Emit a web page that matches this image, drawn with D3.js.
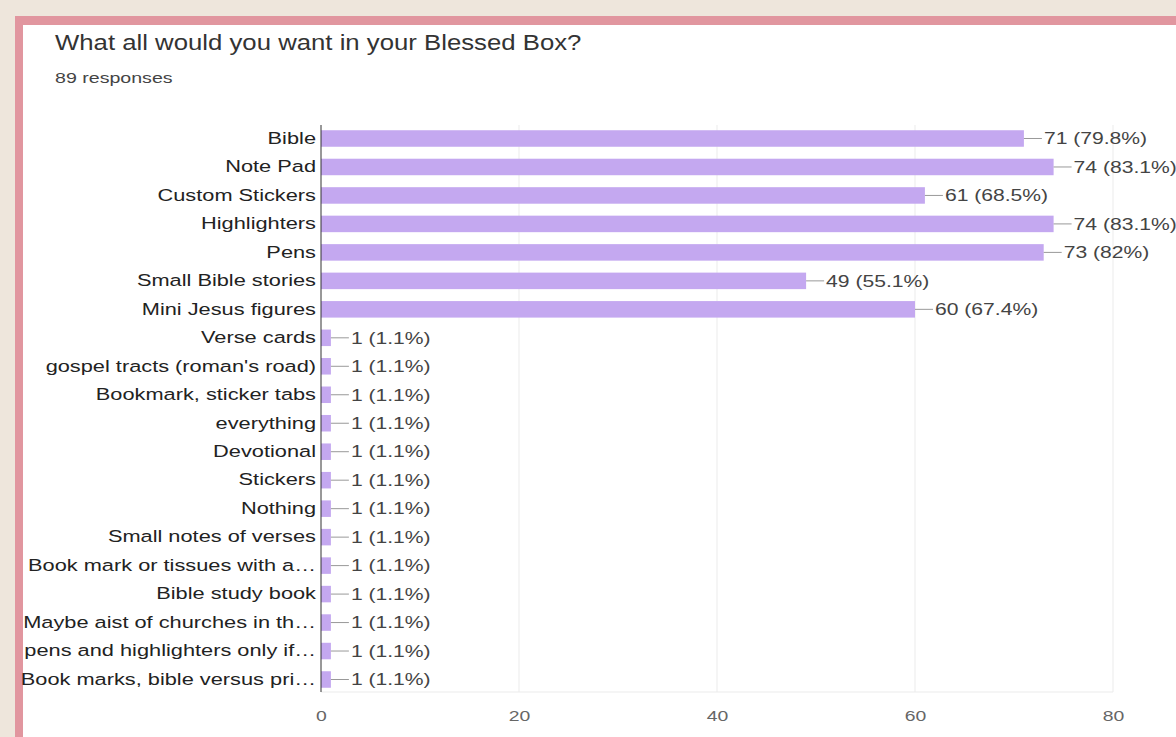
<!DOCTYPE html>
<html>
<head>
<meta charset="utf-8">
<script src="https://cdn.jsdelivr.net/npm/d3@7"></script>
<style>
  body { margin: 0; background: #eee6dc; overflow: hidden; }
  svg { display: block; font-family: "Liberation Sans", Arial, sans-serif; }
</style>
</head>
<body>
<svg id="chart" width="1176" height="737"></svg>
<script>
const categories = ["Bible", "Note Pad", "Custom Stickers", "Highlighters", "Pens",
    "Small Bible stories", "Mini Jesus figures", "Verse cards", "gospel tracts (roman's road)",
    "Bookmark, sticker tabs", "everything", "Devotional", "Stickers", "Nothing",
    "Small notes of verses", "Book mark or tissues with a\u2026", "Bible study book",
    "Maybe aist of churches in th\u2026", "pens and highlighters only if\u2026",
    "Book marks, bible versus pri\u2026"];
const counts = [71, 74, 61, 74, 73, 49, 60, 1, 1, 1, 1, 1, 1, 1, 1, 1, 1, 1, 1, 1];
const percents = ["79.8%", "83.1%", "68.5%", "83.1%", "82%", "55.1%", "67.4%",
    "1.1%", "1.1%", "1.1%", "1.1%", "1.1%", "1.1%", "1.1%", "1.1%", "1.1%", "1.1%",
    "1.1%", "1.1%", "1.1%"];
const xTicks = [0, 20, 40, 60, 80];

const WIDTH = 1176, HEIGHT = 737;
const STRETCH = 1.32; // the screenshot's text is wider than it is tall
const svg = d3.select("#chart");

// pink frame + white card
svg.append("rect").attr("x", 15).attr("y", 16).attr("width", WIDTH).attr("height", HEIGHT)
    .attr("fill", "#e1969f");
svg.append("rect").attr("x", 23).attr("y", 25).attr("width", WIDTH).attr("height", HEIGHT)
    .attr("fill", "#ffffff");

svg.append("text").attr("transform", "translate(55,50) scale(1.17,1)")
    .attr("font-size", "22px").attr("fill", "#333")
    .text("What all would you want in your Blessed Box?");
svg.append("text").attr("transform", "translate(55,83) scale(1.4,1)")
    .attr("font-size", "14px").attr("fill", "#444")
    .text("89 responses");

const data = categories.map((c, i) => ({cat: c, n: counts[i], pct: percents[i]}));

const x = d3.scaleLinear().domain([0, 80]).range([321, 1113]);
const y = d3.scaleBand().domain(categories).range([125, 693])
    .paddingInner(0.42).paddingOuter(0.184);

const g = svg.append("g");

// gridlines
g.selectAll(".grid").data(xTicks.slice(1)).enter().append("line")
    .attr("x1", d => x(d)).attr("x2", d => x(d))
    .attr("y1", 125).attr("y2", 692)
    .attr("stroke", "#ebebeb").attr("stroke-width", 1);
g.append("line").attr("x1", x(0)).attr("x2", x(80)).attr("y1", 692).attr("y2", 692)
    .attr("stroke", "#ebebeb");

// bars
g.selectAll(".bar").data(data).enter().append("rect")
    .attr("class", "bar")
    .attr("x", x(0))
    .attr("y", d => y(d.cat))
    .attr("width", d => x(d.n) - x(0))
    .attr("height", y.bandwidth())
    .attr("fill", "#c4a8f0");

// value labels with leader lines
const lab = g.selectAll(".lab").data(data).enter().append("g")
    .attr("transform", d => `translate(${x(d.n)},${y(d.cat) + y.bandwidth() / 2})`);
lab.append("line").attr("x1", 0).attr("x2", 18).attr("y1", 0).attr("y2", 0)
    .attr("stroke", "#999").attr("stroke-width", 1);
lab.append("text").attr("transform", `translate(20,0) scale(${STRETCH},1)`)
    .attr("dy", "0.36em")
    .attr("font-size", "16px").attr("fill", "#444")
    .text(d => d.n + " (" + d.pct + ")");

// y axis
const yAxis = g.append("g").attr("transform", `translate(${x(0)},0)`)
    .call(d3.axisLeft(y).tickSize(0).tickPadding(0));
yAxis.select(".domain").attr("stroke", "#333").attr("d", "M0,125V692");
yAxis.selectAll(".tick text")
    .attr("x", null)
    .attr("transform", `translate(-5,0) scale(${STRETCH},1)`)
    .attr("font-size", "16.5px").attr("fill", "#222")
    .attr("font-family", "Liberation Sans, Arial, sans-serif");

// x axis
const xAxis = g.append("g").attr("transform", "translate(0,706)")
    .call(d3.axisBottom(x).tickValues(xTicks).tickSize(0).tickPadding(4));
xAxis.select(".domain").remove();
xAxis.selectAll(".tick text")
    .attr("transform", "scale(1.25,1)")
    .attr("font-size", "15.5px").attr("fill", "#666")
    .attr("font-family", "Liberation Sans, Arial, sans-serif");
</script>
</body>
</html>
